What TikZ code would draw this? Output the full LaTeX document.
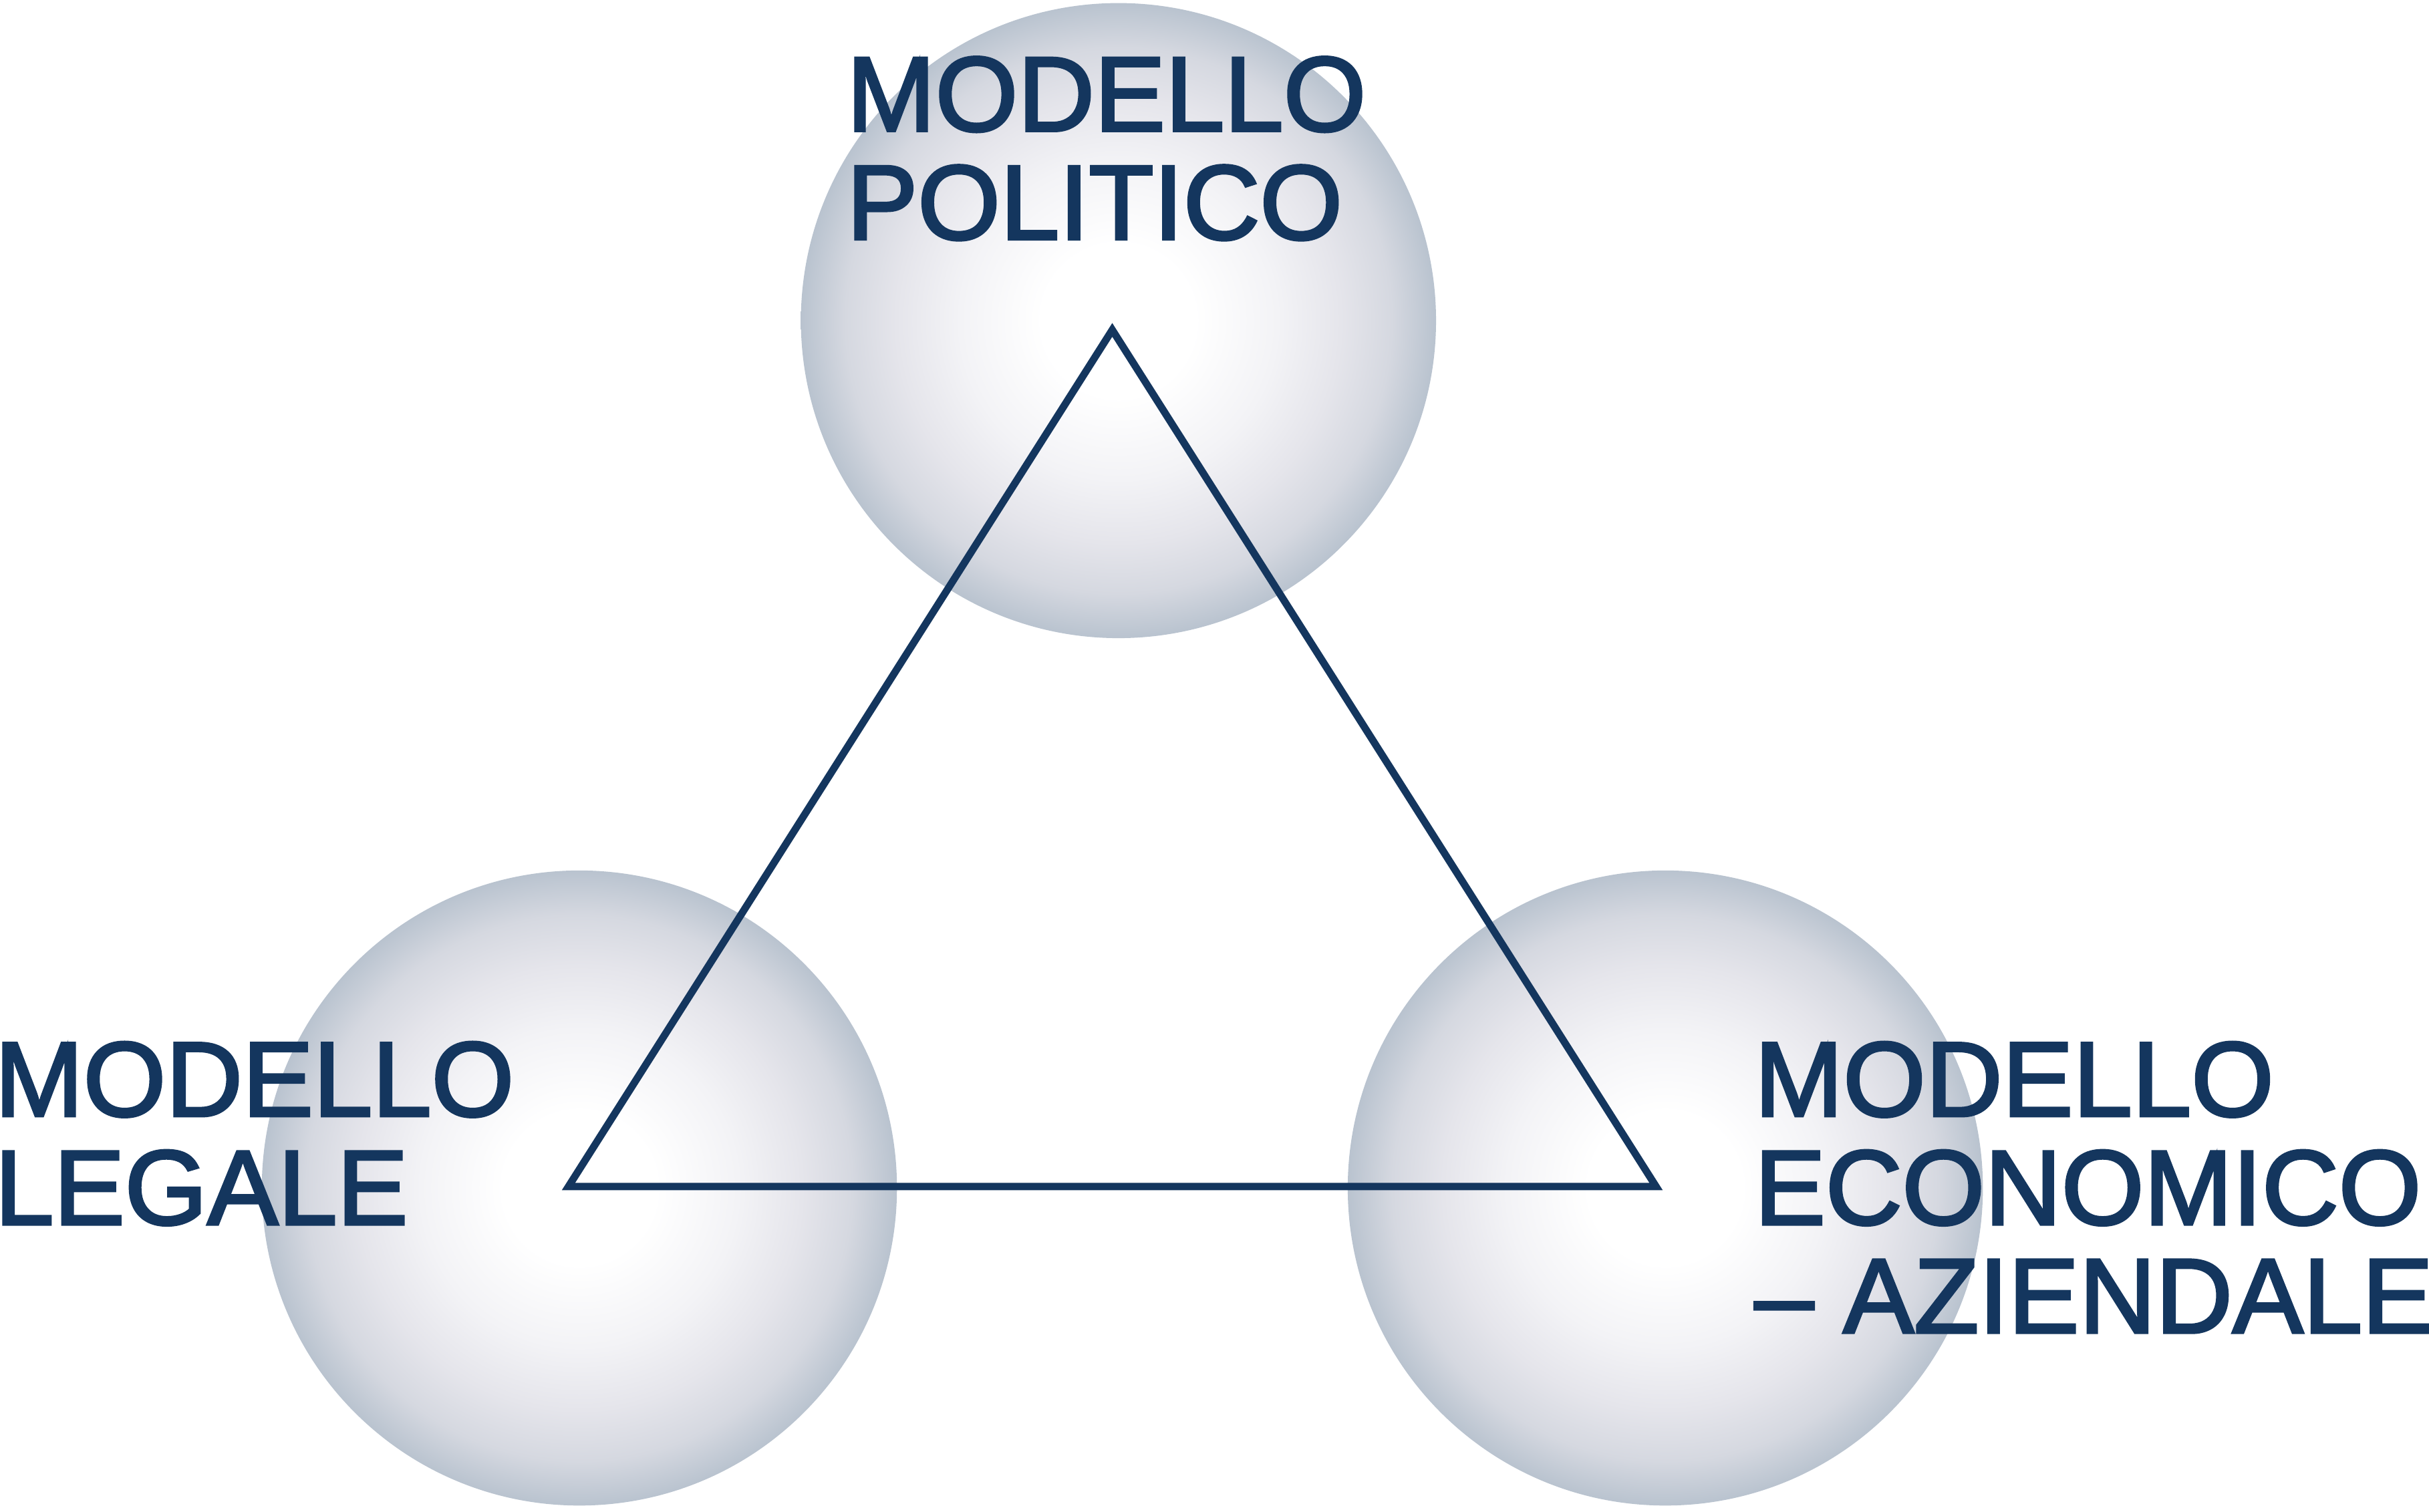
\documentclass[tikz,border=0pt]{standalone}
\usepackage{fontspec}
\setmainfont{Liberation Sans}[FakeBold=2.5]
\usetikzlibrary{positioning, calc}

\definecolor{navy}{RGB}{20,54,94}
\definecolor{rimgray}{RGB}{185,195,207}
\definecolor{ringa}{RGB}{213,216,224}
\definecolor{ringb}{RGB}{229,229,235}
\definecolor{ringc}{RGB}{243,243,246}

% edge of the circle falls at 25bp
\pgfdeclareradialshading{sphereshade}{\pgfpoint{0bp}{0bp}}{%
  color(0bp)=(white);
  color(6bp)=(white);
  color(12.5bp)=(ringc);
  color(17.5bp)=(ringb);
  color(21.5bp)=(ringa);
  color(25bp)=(rimgray);
  color(50bp)=(rimgray)}

\tikzset{
  sphere/.style = {
    circle, minimum size=4.1cm, inner sep=0pt, shading=sphereshade
  },
  label/.style = {
    anchor=north west, inner sep=0pt, align=left, text=navy,
    font=\fontsize{19.5pt}{19.9pt}\selectfont
  },
  edge/.style = {
    draw=navy, line width=1.35pt, line join=miter
  }
}

\begin{document}
\begin{tikzpicture}

  \useasboundingbox (0,0) rectangle (15.68,9.76);

  % Spheres
  \node[sphere] (politico) at (7.22,7.69) {};
  \node[sphere] (legale) at (3.74,2.09) {};
  \node[sphere] (economico) at (10.75,2.09) {};

  % Triangle
  \coordinate (apex) at (7.18,7.63);
  \coordinate (left) at (3.67,2.10);
  \coordinate (right) at (10.69,2.10);
  \draw[edge] (apex) -- (left) -- (right) -- cycle;

  % Labels
  \node[label] (politicolabel) at (5.46,9.40) {MODELLO\\POLITICO};
  \node[label] (legalelabel) at (-0.04,3.04) {MODELLO\\LEGALE};
  \node[label] (economicolabel) at (11.32,3.04) {MODELLO\\ECONOMICO\\– AZIENDALE};

\end{tikzpicture}
\end{document}
